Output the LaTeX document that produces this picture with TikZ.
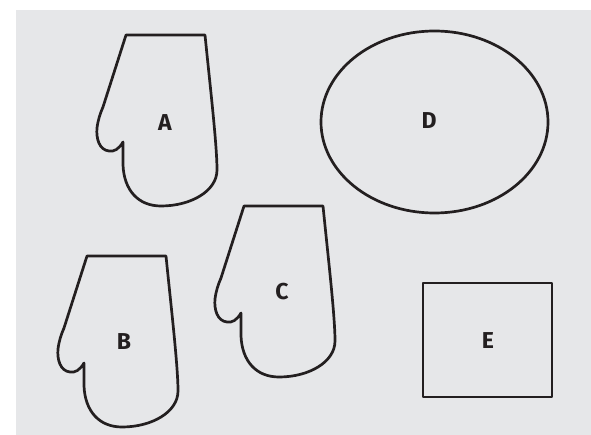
\documentclass[tikz,border=0pt]{standalone}
\usepackage{fontspec}
\setmainfont{Fira Sans}
\definecolor{bggray}{HTML}{E6E7E9}
\definecolor{ink}{HTML}{231F20}
\tikzset{
  shapeline/.style={draw=ink, line width=2.7pt, line join=round},
  lab/.style={font=\fontsize{23}{23}\selectfont\bfseries, text=ink, inner sep=0pt},
  mitten/.pic={
    \draw[shapeline] (0,0) -- (79,0)
      .. controls (84,50) and (91,110) .. (91,135)
      .. controls (91,156) and (65,171) .. (35,171)
      .. controls (12,171) and (-2,155) .. (-3,130)
      -- (-3,107)
      .. controls (-7,114) and (-12,117) .. (-17,116)
      .. controls (-27,115) and (-30,103) .. (-29,93)
      .. controls (-28,85) and (-26,79) .. (-23,72)
      -- cycle;
  }
}
\begin{document}
\begin{tikzpicture}[x=1pt,y=-1pt]
\useasboundingbox (0,0) rectangle (591,435);
\fill[bggray] (16,10) rectangle (591,435);
\pic at (126,35) {mitten};
\pic at (87,256) {mitten};
\pic at (244,206) {mitten};
\node[lab] (A) at (165,123) {A};
\node[lab] (B) at (124,342) {B};
\node[lab] (C) at (282,292) {C};
\draw[shapeline] (434.5,122) ellipse [x radius=113.5, y radius=91];
\node[lab] (D) at (429,121) {D};
\draw[shapeline] (423,283) rectangle (552,397);
\node[lab] (E) at (488,341) {E};
\end{tikzpicture}
\end{document}
